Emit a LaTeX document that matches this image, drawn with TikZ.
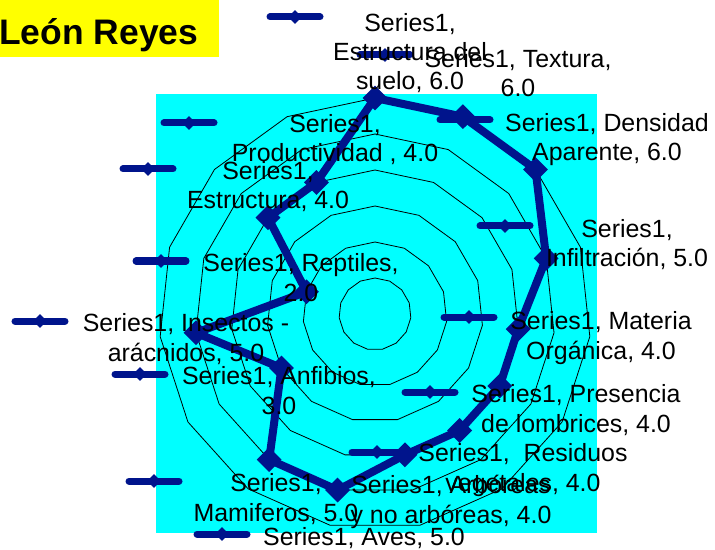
\documentclass[tikz,border=0pt]{standalone}
\usepackage{fontspec}
\setmainfont{Liberation Sans}
\usepackage{xcolor}
\usepackage{tikz}
\usetikzlibrary{positioning}
\usetikzlibrary{shapes.geometric}
\usetikzlibrary{calc}
\definecolor{serieblue}{RGB}{0,20,140}
\definecolor{plotcyan}{RGB}{0,255,255}
\definecolor{titleyellow}{RGB}{255,255,0}
\tikzstyle{ring} = [draw,line width=0.8bp]
\tikzstyle{seriesedge} = [draw=serieblue,line width=8bp,line cap=round,line join=round]
\tikzstyle{bigdiamond} = [diamond,fill=serieblue,minimum size=25bp,inner sep=0pt]
\tikzstyle{keyedge} = [draw=serieblue,line width=7bp,line cap=round]
\tikzstyle{smalldiamond} = [diamond,fill=serieblue,minimum size=14bp,inner sep=0pt]
\tikzset{lbl/.style={align=center,anchor=base,inner sep=0pt,font=\fontsize{25}{29.5}\selectfont}}

\begin{document}
\begin{tikzpicture}[x=1bp,y=-1bp]
\useasboundingbox (0,0) rectangle (715,550);

 %title
 \path[fill=titleyellow] (-5,-5) rectangle (219,57);
 \node[anchor=base west,inner sep=0pt,font=\fontsize{35.6}{40}\selectfont\bfseries] (title) at (-1,45) {León Reyes};

 %plot area
 \path[fill=plotcyan] (156,94) rectangle (597,533);

 \begin{scope}[shift={(375,314)},y=1bp]
  \def\u{36};

  %rings
  \foreach \r in {1,...,6}
    \draw[ring] (90:\r*\u) \foreach \k in {1,...,14}{ -- (90-\k*24:\r*\u)} -- cycle;

  %series
  \foreach \k/\v/\name in {0/6/suelo, 1/6/textura, 2/6/densidad, 3/5/infil, 4/4/materia,
      5/4/lombrices, 6/4/residuos, 7/4/arboreas, 8/5/aves, 9/5/mamif,
      10/3/anfib, 11/5/insect, 12/2/rept, 13/4/estr, 14/4/prod}
    \coordinate (\name) at (90-\k*24:\v*\u);

  \foreach \source/\dest in {suelo/textura, textura/densidad, densidad/infil, infil/materia,
      materia/lombrices, lombrices/residuos, residuos/arboreas, arboreas/aves, aves/mamif,
      mamif/anfib, anfib/insect, insect/rept, rept/estr, estr/prod, prod/suelo}
    \path[seriesedge] (\source) -- (\dest);

  \foreach \name in {suelo, textura, densidad, infil, materia, lombrices, residuos,
      arboreas, aves, mamif, anfib, insect, rept, estr, prod}
    \node[bigdiamond] (m\name) at (\name) {};
 \end{scope}

 %keys
 \foreach \x/\y/\name in {295/17/ksuelo, 385/55/ktextura, 465/120/kdensidad, 505/226/kinfil,
     469/317/kmateria, 430/392/klombrices, 377/452/kresiduos, 222/534/kaves, 154/481/kmamif,
     140/374/kanfib, 40/321/kinsect, 161/261/krept, 148/169/kestr, 189/123/kprod}{
   \coordinate (\name) at (\x,\y);
   \path[keyedge] ([xshift=-25bp]\name) -- ([xshift=25bp]\name);
   \node[smalldiamond] (m\name) at (\name) {};
 }

 %labels (y = baseline of last line)
 \foreach \x/\y/\name/\txt in {410/90/lsuelo/{Series1,\\Estructura del\\suelo, 6.0},
     518/97/ltextura/{Series1, Textura,\\6.0},
     607/161/ldensidad/{Series1, Densidad\\Aparente, 6.0},
     627/267/linfil/{Series1,\\Infiltración, 5.0},
     601/359/lmateria/{Series1, Materia\\Orgánica, 4.0},
     576/432/llombrices/{Series1, Presencia\\de lombrices, 4.0},
     523/491/lresiduos/{Series1,\ \ Residuos\\vegetales, 4.0},
     451/523/larboreas/{Series1, Arbóreas\\y no arbóreas, 4.0},
     364/545/laves/{Series1, Aves, 5.0},
     276/521/lmamif/{Series1,\\Mamiferos, 5.0},
     279/414/lanfib/{Series1, Anfibios,\\3.0},
     186/361/linsect/{Series1, Insectos -\\arácnidos, 5.0},
     301/301/lrept/{Series1, Reptiles,\\2.0},
     268/209/lestr/{Series1,\\Estructura, 4.0},
     335/162/lprod/{Series1,\\Productividad , 4.0}}
   \node[lbl] (\name) at (\x,\y) {\txt};

\end{tikzpicture}
\end{document}
